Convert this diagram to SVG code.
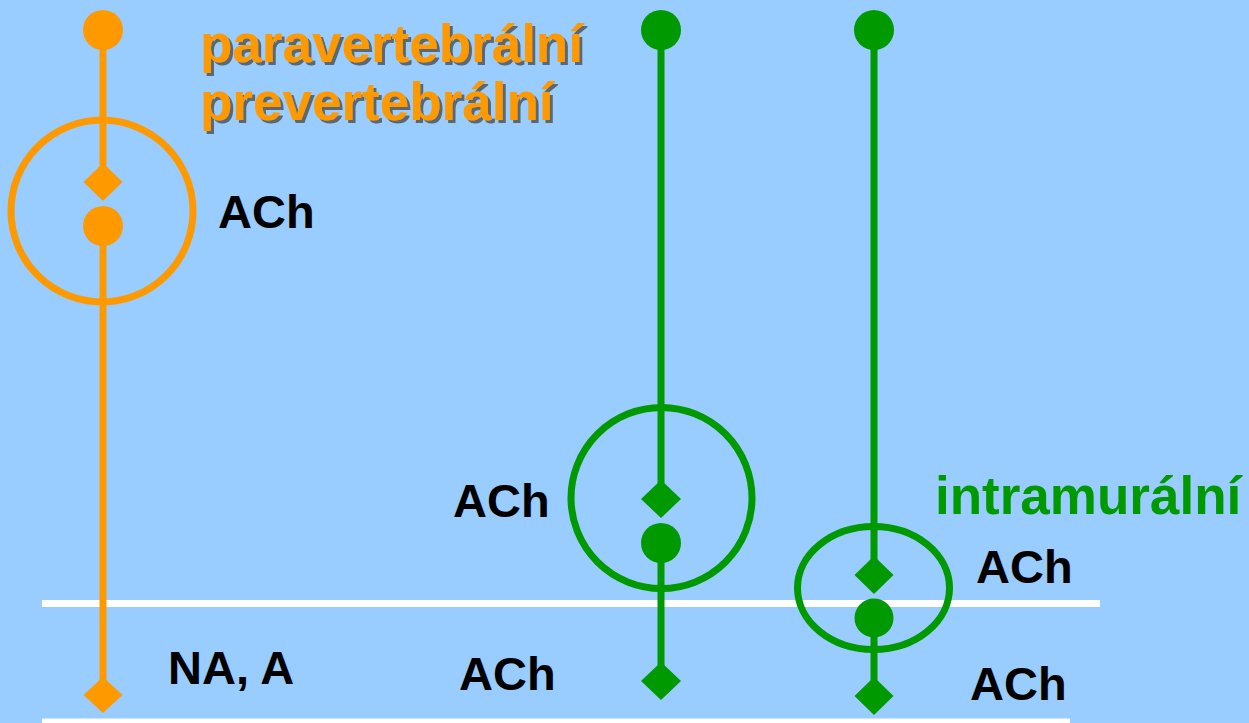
<svg xmlns="http://www.w3.org/2000/svg" width="1249" height="723" viewBox="0 0 1249 723">
<defs>
<filter id="shadow" x="-5%" y="-20%" width="115%" height="150%">
<feDropShadow dx="3" dy="3" stdDeviation="0.6" flood-color="#3a3020" flood-opacity="0.65"/>
</filter>
</defs>
<style>
.o{fill:#FF9900}
.g{fill:#009900}
.ol{stroke:#FF9900;stroke-width:7;fill:none}
.gl{stroke:#009900;stroke-width:7;fill:none}
.wl{stroke:#FFFFFF;stroke-width:7}
.lbl{font-family:"Liberation Sans",Arial,sans-serif;font-weight:bold;font-size:47px;fill:#000}
.big{font-family:"Liberation Sans",Arial,sans-serif;font-weight:bold;font-size:53px}
.sh{filter:url(#shadow)}
</style>
<rect width="1249" height="723" fill="#99CCFF"/>
<g id="membranes">
<line class="wl" x1="42" y1="603.5" x2="1100" y2="603.5"/>
<line class="wl" x1="42" y1="722" x2="1070" y2="722"/>
</g>
<g id="connectors">
<line class="ol" x1="103" y1="30" x2="103" y2="182"/>
<line class="ol" x1="103" y1="226" x2="103" y2="695"/>
<line class="gl" x1="661" y1="30" x2="661" y2="499"/>
<line class="gl" x1="661" y1="543" x2="661" y2="681"/>
<line class="gl" x1="874" y1="30" x2="874" y2="575"/>
<line class="gl" x1="874" y1="618" x2="874" y2="696"/>
</g>
<g id="orange-neuron">
<circle class="o" cx="103" cy="30" r="20"/>
<circle class="ol" cx="102" cy="211" r="91"/>
<polygon class="o" points="103,163 122.5,182 103,201 83.5,182"/>
<circle class="o" cx="103" cy="226" r="20"/>
<polygon class="o" points="103,677 122.5,695 103,713 83.5,695"/>
</g>
<g id="green-neuron-1">
<circle class="g" cx="661" cy="30" r="20"/>
<circle class="gl" cx="661.5" cy="498" r="90.5"/>
<polygon class="g" points="661,480 681,499 661,518 641,499"/>
<circle class="g" cx="661" cy="543" r="20"/>
<polygon class="g" points="661,662 681,681 661,700 641,681"/>
</g>
<g id="green-neuron-2">
<circle class="g" cx="874" cy="30" r="20"/>
<ellipse class="gl" cx="873.5" cy="588" rx="76" ry="61.5"/>
<polygon class="g" points="874,556 893.5,575 874,594 854.5,575"/>
<circle class="g" cx="874" cy="618" r="19.5"/>
<polygon class="g" points="874,677 893.5,696 874,715 854.5,696"/>
</g>
<g id="labels">
<text class="big o sh" x="200" y="62">paravertebrální</text>
<text class="big o sh" x="200" y="120">prevertebrální</text>
<text class="big g" x="935" y="514">intramurální</text>
<text class="lbl" x="218" y="228">ACh</text>
<text class="lbl" x="453" y="517">ACh</text>
<text class="lbl" x="976" y="583">ACh</text>
<text class="lbl" x="970" y="700">ACh</text>
<text class="lbl" x="459" y="690">ACh</text>
<text class="lbl" x="168" y="684">NA, A</text>
</g>
</svg>
